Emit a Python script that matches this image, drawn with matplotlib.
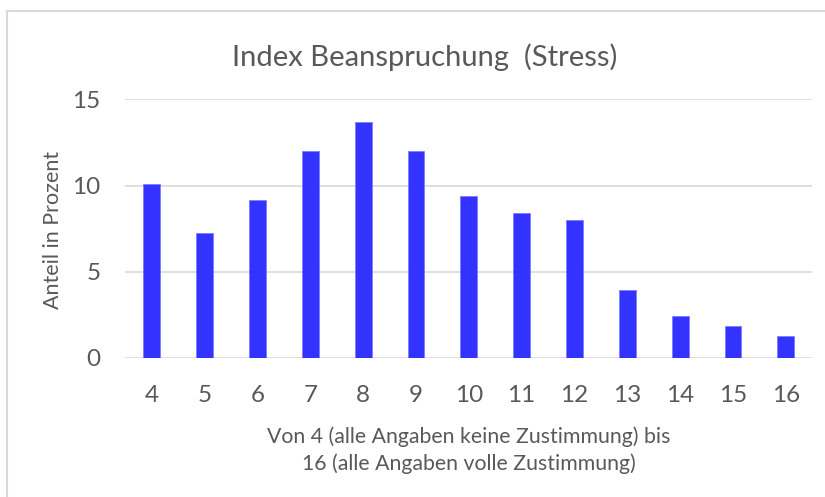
import matplotlib.pyplot as plt
import matplotlib.patches as mpatches

# Daten
kategorien = ['4', '5', '6', '7', '8', '9', '10', '11', '12', '13', '14', '15', '16']
anteile = [10.1, 7.27, 9.15, 12.03, 13.72, 11.98, 9.4, 8.4, 7.99, 3.92, 2.44, 1.86, 1.28]
y_ticks = [0, 5, 10, 15]

grau = '#595959'
plt.rcParams['font.family'] = ['Lato', 'DejaVu Sans']

fig = plt.figure(figsize=(8.25, 4.97), dpi=100)
ax = fig.add_axes([0.1519, 0.2803, 0.8327, 0.5195])

x = range(len(kategorien))
ax.bar(x, anteile, width=0.32, color='#3333FF', edgecolor='#7777FF', linewidth=0.5, zorder=3)

ax.set_xlim(-0.5, len(kategorien) - 0.5)
ax.set_ylim(0, 15)
ax.set_yticks(y_ticks)
ax.set_xticks(list(x))
ax.set_xticklabels(kategorien)
ax.grid(axis='y', color='#D9D9D9', linewidth=1.2, zorder=0)
for s in ax.spines.values():
    s.set_visible(False)
ax.tick_params(length=0, labelsize=17.5, colors=grau)
ax.tick_params(axis='y', pad=18)
ax.tick_params(axis='x', pad=20)

fig.text(53 / 825, 1 - 230 / 497, 'Anteil in Prozent', rotation=90, ha='center', va='center',
         fontsize=15.5, color=grau)
fig.text(468.7 / 825, 1 - 450 / 497,
         'Von 4 (alle Angaben keine Zustimmung) bis\n16 (alle Angaben volle Zustimmung)',
         ha='center', va='center', fontsize=15.3, color=grau, linespacing=1.4)

fig.text(0.515, 0.885, 'Index Beanspruchung  (Stress)', ha='center', va='center',
         fontsize=21, color=grau)

# Rahmen (nur oben und links sichtbar)
rahmen = mpatches.Rectangle((7 / 825, -0.1), 1.2, 1.1 - 11 / 497, transform=fig.transFigure,
                            fill=False, edgecolor='#D9D9D9', linewidth=1.5)
fig.add_artist(rahmen)

plt.savefig('out.png')
